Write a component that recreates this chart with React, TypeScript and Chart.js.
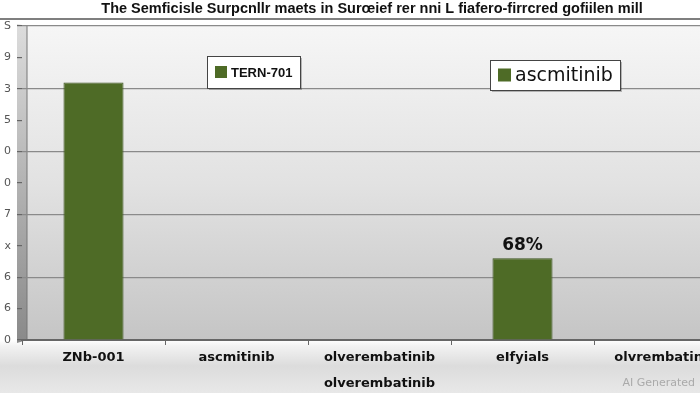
import React, { useEffect, useRef } from "react";
import { Chart, registerables } from "chart.js";

Chart.register(...registerables);

const TITLE = "The Semficisle Surpcnllr maets in Surœief rer nni L fiafero-firrcred gofiilen mill";
const categories: (string | string[])[] = [
  "ZNb-001",
  "ascmitinib",
  ["olverembatinib", "olverembatinib"],
  "eIfyials",
  "olvrembatinib",
];
const values: (number | null)[] = [8.2, null, null, 2.6, null];
const valueLabels: (string | null)[] = [null, null, null, "68%", null];
const yTickLabels = ["0", "6", "6", "x", "7", "0", "0", "5", "3", "9", "S"];
const legendNames = ["TERN-701", "ascmitinib"];

const BAR = "#4e6b26";

const decorPlugin = {
  id: "decor",
  beforeDraw(chart: any) {
    const { ctx, chartArea: a } = chart;
    ctx.save();
    const g = ctx.createLinearGradient(0, a.top, 0, a.bottom);
    g.addColorStop(0, "#f6f6f6");
    g.addColorStop(0.5, "#e2e2e2");
    g.addColorStop(1, "#c5c5c5");
    ctx.fillStyle = g;
    ctx.fillRect(a.left, a.top, a.right - a.left, a.bottom - a.top);
    const w = ctx.createLinearGradient(0, a.top, 0, a.bottom);
    w.addColorStop(0, "#dcdcdc");
    w.addColorStop(1, "#8a8a8a");
    ctx.fillStyle = w;
    ctx.beginPath();
    ctx.moveTo(a.left - 5, a.top - 2);
    ctx.lineTo(a.left + 5, a.top);
    ctx.lineTo(a.left + 5, a.bottom);
    ctx.lineTo(a.left - 5, a.bottom + 3);
    ctx.closePath();
    ctx.fill();
    ctx.strokeStyle = "#777";
    ctx.lineWidth = 1;
    ctx.beginPath();
    ctx.moveTo(a.left + 5, a.top);
    ctx.lineTo(a.left + 5, a.bottom);
    ctx.stroke();
    ctx.strokeStyle = "#555";
    ctx.lineWidth = 1.5;
    ctx.beginPath();
    ctx.moveTo(0, 19);
    ctx.lineTo(chart.width, 19);
    ctx.stroke();
    ctx.fillStyle = "#111";
    ctx.font = "bold 14.5px 'Liberation Sans', Arial, sans-serif";
    ctx.textAlign = "center";
    ctx.textBaseline = "middle";
    ctx.fillText(TITLE, 372, 9);
    ctx.restore();
  },
  afterDatasetsDraw(chart: any) {
    const { ctx } = chart;
    const meta = chart.getDatasetMeta(0);
    ctx.save();
    ctx.fillStyle = "#111";
    ctx.font = "bold 17px 'DejaVu Sans', sans-serif";
    ctx.textAlign = "center";
    ctx.textBaseline = "bottom";
    valueLabels.forEach((l, i) => {
      if (!l) return;
      const el = meta.data[i];
      ctx.fillText(l, el.x, el.y - 4);
    });
    const boxes = [
      { x: 207, y: 56, w: 93, h: 32, font: "bold 13px 'Liberation Sans', Arial, sans-serif", sq: 12 },
      { x: 490, y: 60, w: 130, h: 30, font: "19px 'DejaVu Sans', sans-serif", sq: 13 },
    ];
    boxes.forEach((b, i) => {
      ctx.fillStyle = "rgba(0,0,0,0.25)";
      ctx.fillRect(b.x + 2, b.y + 2, b.w, b.h);
      ctx.fillStyle = "#fff";
      ctx.fillRect(b.x, b.y, b.w, b.h);
      ctx.strokeStyle = "#444";
      ctx.lineWidth = 1;
      ctx.strokeRect(b.x + 0.5, b.y + 0.5, b.w, b.h);
      ctx.fillStyle = BAR;
      ctx.fillRect(b.x + 8, b.y + b.h / 2 - b.sq / 2, b.sq, b.sq);
      ctx.fillStyle = "#111";
      ctx.font = b.font;
      ctx.textAlign = "left";
      ctx.textBaseline = "middle";
      ctx.fillText(legendNames[i], b.x + 8 + b.sq + 4, b.y + b.h / 2 + 1);
    });
    ctx.fillStyle = "#aaa";
    ctx.font = "11px 'DejaVu Sans', sans-serif";
    ctx.textAlign = "right";
    ctx.textBaseline = "middle";
    ctx.fillText("AI Generated", 695, 383);
    ctx.restore();
  },
};

export default function App() {
  const ref = useRef<HTMLCanvasElement>(null);
  useEffect(() => {
    if (!ref.current) return;
    const chart = new Chart(ref.current, {
      type: "bar",
      data: {
        labels: categories,
        datasets: [
          {
            label: legendNames[0],
            data: values,
            backgroundColor: BAR,
            borderColor: "#3d5520",
            borderWidth: 1,
            categoryPercentage: 1,
            barPercentage: 0.42,
          },
        ],
      },
      options: {
        responsive: false,
        animation: false,
        layout: { padding: { top: 26, right: 3, left: 0, bottom: 0 } },
        plugins: { legend: { display: false }, title: { display: false }, tooltip: { enabled: false } },
        scales: {
          x: {
            offset: true,
            grid: { offset: true, drawOnChartArea: false, tickLength: 5, color: "#666" },
            border: { color: "#666", width: 2 },
            ticks: {
              color: "#111",
              padding: 0,
              maxRotation: 0,
              autoSkip: false,
              font: { size: 13, weight: "bold", family: "'DejaVu Sans', sans-serif", lineHeight: 2 },
            },
            afterFit: (s: any) => {
              s.height = 53;
            },
          },
          y: {
            min: 0,
            max: 10,
            ticks: {
              stepSize: 1,
              color: "#555",
              padding: 6,
              font: { size: 11, family: "'DejaVu Sans', sans-serif" },
              callback: (v: any) => yTickLabels[Number(v)] ?? "",
            },
            grid: {
              tickLength: 5,
              tickColor: "#666",
              color: (c: any) =>
                c.tick && c.tick.value > 0 && c.tick.value % 2 === 0 ? "#8a8a8a" : "transparent",
              lineWidth: 1.2,
            },
            border: { display: false },
            afterFit: (s: any) => {
              s.width = 22;
            },
          },
        },
      },
      plugins: [decorPlugin],
    });
    return () => chart.destroy();
  }, []);
  return (
    <div
      style={{
        position: "fixed",
        left: 0,
        top: 0,
        width: 700,
        height: 393,
        overflow: "hidden",
        background: "linear-gradient(to bottom, #ffffff 0px, #ffffff 340px, #f2f2f2 346px, #dcdcdc 366px, #e8e8e8 393px)",
      }}
    >
      <canvas ref={ref} width={740} height={393} style={{ display: "block" }} />
    </div>
  );
}
